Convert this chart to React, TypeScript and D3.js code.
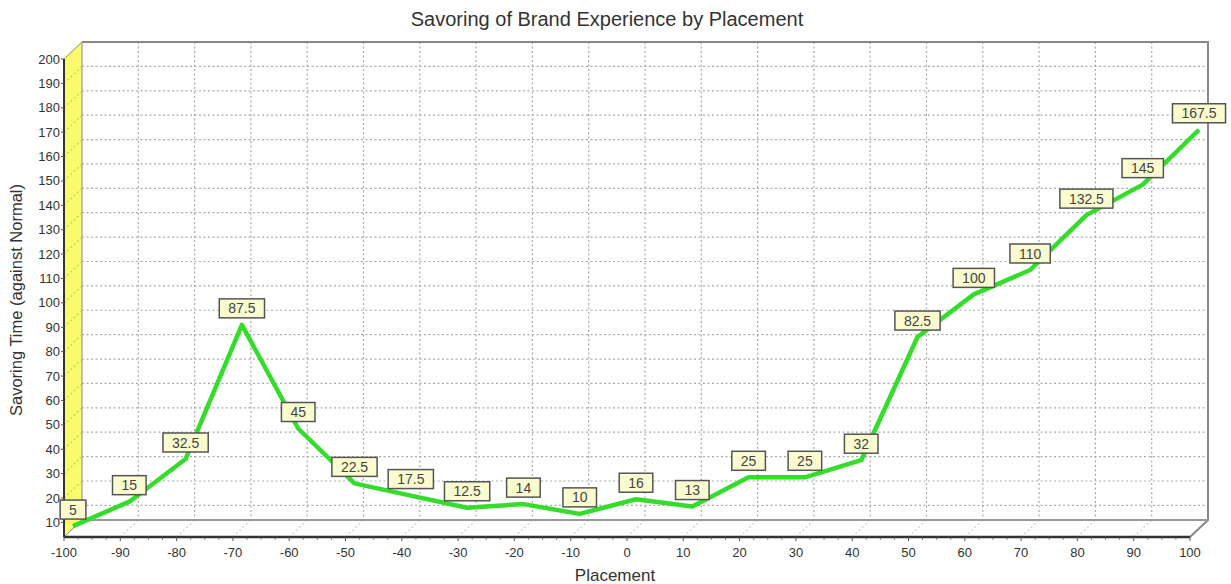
import { useEffect, useRef } from 'react';
import * as d3 from 'd3';

const placements = [-100, -90, -80, -70, -60, -50, -40, -30, -20, -10, 0, 10, 20, 30, 40, 50, 60, 70, 80, 90, 100];
const savoring = [5, 15, 32.5, 87.5, 45, 22.5, 17.5, 12.5, 14, 10, 16, 13, 25, 25, 32, 82.5, 100, 110, 132.5, 145, 167.5];
const labels = ['5', '15', '32.5', '87.5', '45', '22.5', '17.5', '12.5', '14', '10', '16', '13', '25', '25', '32', '82.5', '100', '110', '132.5', '145', '167.5'];
const yTicks = d3.range(10, 201, 10);
const xTicks = d3.range(-100, 101, 10);

const W = 1231;
const H = 584;
const DX = 18; // depth offset
const DY = 17;
const FONT = '"Liberation Sans", Arial, sans-serif';

export default function App() {
  const svgRef = useRef<SVGSVGElement>(null);

  useEffect(() => {
    if (!svgRef.current) return;
    const svg = d3.select(svgRef.current);
    svg.selectAll('*').remove();

    const x = d3.scaleLinear().domain([-100, 100]).range([64, 1190]);
    const y = d3.scaleLinear().domain([4, 200]).range([537, 59]);
    const [x0, x1] = x.range();
    const [yb, yt] = y.range();

    svg.append('rect').attr('width', W).attr('height', H).attr('fill', 'white');

    // title
    svg.append('text')
      .attr('x', 607).attr('y', 26)
      .attr('text-anchor', 'middle')
      .style('font-family', FONT).style('font-size', '20px').attr('fill', '#333')
      .text('Savoring of Brand Experience by Placement');

    // back wall
    svg.append('rect')
      .attr('x', x0 + DX).attr('y', yt - DY)
      .attr('width', x1 - x0).attr('height', yb - yt)
      .attr('fill', 'white');

    // yellow left wall
    svg.append('path')
      .attr('d', `M${x0},${yt}L${x0 + DX},${yt - DY}L${x0 + DX},${yb - DY}L${x0},${yb}Z`)
      .attr('fill', '#fafa6e').attr('stroke', '#888').attr('stroke-width', 1);

    // floor
    svg.append('path')
      .attr('d', `M${x0},${yb}L${x0 + DX},${yb - DY}L${x1 + DX},${yb - DY}L${x1},${yb}Z`)
      .attr('fill', 'white').attr('stroke', '#999').attr('stroke-width', 1);

    const grid = svg.append('g')
      .attr('stroke', '#aaa').attr('stroke-width', 1.2).attr('stroke-dasharray', '2,2.5').attr('fill', 'none');

    // horizontal gridlines on back wall + diagonals on left wall
    yTicks.forEach(v => {
      grid.append('line')
        .attr('x1', x0 + DX).attr('x2', x1 + DX)
        .attr('y1', y(v) - DY).attr('y2', y(v) - DY);
      grid.append('line')
        .attr('x1', x0).attr('x2', x0 + DX)
        .attr('y1', y(v)).attr('y2', y(v) - DY)
        .attr('stroke', '#c8c850');
    });

    // vertical gridlines on back wall + diagonals on floor
    xTicks.slice(1, -1).forEach(v => {
      grid.append('line')
        .attr('x1', x(v) + DX).attr('x2', x(v) + DX)
        .attr('y1', yt - DY).attr('y2', yb - DY);
      grid.append('line')
        .attr('x1', x(v)).attr('x2', x(v) + DX)
        .attr('y1', yb).attr('y2', yb - DY)
        .attr('stroke', '#ccc');
    });

    // back wall border
    svg.append('path')
      .attr('d', `M${x0 + DX},${yt - DY}L${x1 + DX},${yt - DY}L${x1 + DX},${yb - DY}L${x1},${yb}`)
      .attr('fill', 'none').attr('stroke', '#888').attr('stroke-width', 2);
    svg.append('line')
      .attr('x1', x0 + DX).attr('x2', x1 + DX)
      .attr('y1', yb - DY).attr('y2', yb - DY)
      .attr('stroke', '#999').attr('stroke-width', 2);

    // y axis
    svg.append('line')
      .attr('x1', x0).attr('x2', x0).attr('y1', yt).attr('y2', yb)
      .attr('stroke', '#333').attr('stroke-width', 2);
    const ya = svg.append('g');
    yTicks.forEach(v => {
      ya.append('line')
        .attr('x1', x0 - 3).attr('x2', x0).attr('y1', y(v)).attr('y2', y(v))
        .attr('stroke', '#555');
      ya.append('text')
        .attr('x', x0 - 4).attr('y', y(v)).attr('dy', '0.35em')
        .attr('text-anchor', 'end')
        .style('font-family', FONT).style('font-size', '13px').attr('fill', '#333')
        .text(v);
    });
    svg.append('text')
      .attr('transform', `translate(22, 300) rotate(-90)`)
      .attr('text-anchor', 'middle')
      .style('font-family', FONT).style('font-size', '16.5px').attr('fill', '#333')
      .text('Savoring Time (against Normal)');

    // x axis
    svg.append('line')
      .attr('x1', x0).attr('x2', x1).attr('y1', yb).attr('y2', yb)
      .attr('stroke', '#333').attr('stroke-width', 2.5);
    const xa = svg.append('g');
    d3.range(-100, 100.1, 2.5).forEach(v => {
      xa.append('line')
        .attr('x1', x(v)).attr('x2', x(v)).attr('y1', yb).attr('y2', yb + (v % 10 === 0 ? 4 : 2.5))
        .attr('stroke', '#555');
    });
    xTicks.forEach(v => {
      xa.append('text')
        .attr('x', x(v)).attr('y', 557)
        .attr('text-anchor', 'middle')
        .style('font-family', FONT).style('font-size', '13px').attr('fill', '#333')
        .text(v);
    });
    svg.append('text')
      .attr('x', 615).attr('y', 581)
      .attr('text-anchor', 'middle')
      .style('font-family', FONT).style('font-size', '17px').attr('fill', '#333')
      .text('Placement');

    // line drawn at mid depth
    const pts = placements.map((p, i) => ({ px: x(p) + DX / 2, py: y(savoring[i]) - DY / 2, label: labels[i] }));
    const line = d3.line<{ px: number; py: number }>().x(d => d.px).y(d => d.py);
    svg.append('path')
      .datum(pts)
      .attr('d', line)
      .attr('fill', 'none')
      .attr('stroke', '#33dd2a')
      .attr('stroke-width', 4.5)
      .attr('stroke-linejoin', 'round');

    // item labels
    const lg = svg.selectAll('.lbl').data(pts).enter().append('g').attr('class', 'lbl');
    lg.each(function (d) {
      const g = d3.select(this);
      const rect = g.append('rect');
      const t = g.append('text')
        .attr('x', d.px).attr('y', d.py - 7 - 9.5).attr('dy', '0.36em')
        .attr('text-anchor', 'middle')
        .style('font-family', FONT).style('font-size', '14px').attr('fill', '#444')
        .text(d.label);
      const w = (t.node() as SVGTextElement).getComputedTextLength() + 18;
      rect.attr('x', d.px - w / 2).attr('y', d.py - 7 - 19)
        .attr('width', w).attr('height', 19)
        .attr('fill', '#fbfbd0').attr('stroke', '#555').attr('stroke-width', 1.5);
    });
  }, []);

  return (
    <svg ref={svgRef} width={W} height={H} style={{ position: 'absolute', left: 0, top: 0 }} />
  );
}
